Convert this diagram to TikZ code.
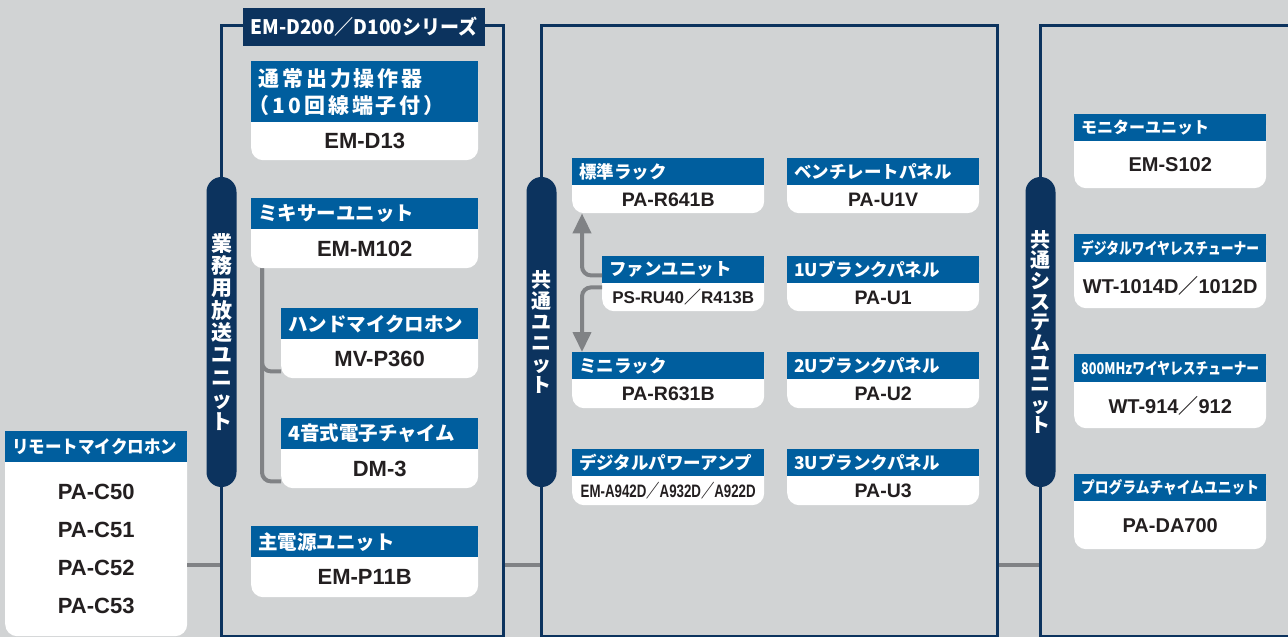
\documentclass[tikz,border=0pt]{standalone}
\usepackage{fontspec}
\setmainfont{Liberation Sans}
\newfontfamily\jp{Noto Sans CJK JP}
\newfontfamily\jpwide{Noto Sans CJK JP}[LetterSpace=14]
\usepackage{graphicx}
\usetikzlibrary{positioning, calc, arrows.meta}

\definecolor{paper}{HTML}{D1D3D4}
\definecolor{navy}{HTML}{0C335E}
\definecolor{headblue}{HTML}{005E9E}
\definecolor{linegray}{HTML}{808285}
\definecolor{ink}{HTML}{231F20}

\newcommand{\fsl}{{\jp ／}}
\newcommand{\squeeze}[2]{\resizebox{#1}{\height}{#2}}
\newcommand{\opswfont}{\jpwide\bfseries\fontsize{21}{27}\selectfont}
% card: name, top left, width, header height, total height, header, body
\newcommand{\unitcard}[7]{%
  \node[cardbody, anchor=north west, minimum width=#3, minimum height=#5] (#1) at (#2) {};
  \node[cardhead, anchor=north west, minimum width=#3, minimum height=#4] (#1h) at (#1.north west) {};
  \node[headtext] (#1t) at ($(#1h.west)+(7,0)$) {#6};
  \node[bodytext] (#1b) at ($(#1h.south)!0.5!(#1.south)$) {#7};
}

\begin{document}
\begin{tikzpicture}[x=1pt, y=-1pt,
  groupframe/.style={draw=navy, line width=3pt, inner sep=0pt},
  pill/.style={fill=navy, rounded corners=14.9pt, minimum width=30pt, minimum height=310pt, inner sep=0pt, text=white, align=center},
  titlebox/.style={fill=navy, minimum width=242pt, minimum height=38pt, inner sep=0pt, text=white},
  cardbody/.style={fill=white, rounded corners=12pt, inner sep=0pt},
  cardhead/.style={fill=headblue, inner sep=0pt},
  headtext/.style={text=white, inner sep=0pt, anchor=west, align=left},
  bodytext/.style={text=ink, inner sep=0pt, align=center},
  link/.style={draw=linegray, line width=4pt, rounded corners=9pt},
  arrowtip/.style={-{Triangle[width=18pt, length=20pt]}}]

\useasboundingbox[fill=paper] (0,0) rectangle (1288,637);

% group frames
\node[groupframe, anchor=north west, minimum width=281.5pt, minimum height=610.5pt] (fr1) at (220,24) {};
\node[groupframe, anchor=north west, minimum width=456pt, minimum height=610.5pt] (fr2) at (540,24) {};
\node[groupframe, anchor=north west, minimum width=260pt, minimum height=610.5pt] (fr3) at (1039,24) {};

\node[titlebox, font=\jp\bfseries\fontsize{20}{22}\selectfont] (series) at (364,27) {\squeeze{227pt}{EM-D200／D100シリーズ}};

% side labels
\node[pill, font=\jp\bfseries\fontsize{21}{22.3}\selectfont] (pbiz) at (221.5,332) {業\\務\\用\\放\\送\\ユ\\ニ\\ッ\\ト};
\node[pill, font=\jp\bfseries\fontsize{20}{21}\selectfont] (pcom) at (541.5,332) {共\\通\\ユ\\ニ\\ッ\\ト};
\node[pill, font=\jp\bfseries\fontsize{20}{20.6}\selectfont] (psys) at (1040.5,332) {共\\通\\シ\\ス\\テ\\ム\\ユ\\ニ\\ッ\\ト};

% remote microphone
\begin{scope}[headtext/.append style={font=\jp\bfseries\fontsize{18}{20}\selectfont},
              bodytext/.append style={font=\bfseries\fontsize{22}{38}\selectfont}]
  \unitcard{remote}{5,431}{182pt}{31pt}{205pt}{\squeeze{165pt}{リモートマイクロホン}}{PA-C50\\PA-C51\\PA-C52\\PA-C53}
\end{scope}

% business units
\begin{scope}[headtext/.append style={font=\jp\bfseries\fontsize{19.5}{27}\selectfont},
              bodytext/.append style={font=\bfseries\fontsize{22}{26}\selectfont}]
  \unitcard{opsw}{251,61}{227pt}{61pt}{99pt}{\opswfont 通常出力操作器\\\opswfont\kern-0.45em（10回線端子付）}{EM-D13}
  \unitcard{mixer}{251,198}{227pt}{31pt}{70pt}{ミキサーユニット}{EM-M102}
  \unitcard{hand}{281,308}{197pt}{31pt}{70pt}{ハンドマイクロホン}{MV-P360}
  \unitcard{chime}{281,418}{197pt}{31pt}{70pt}{4音式電子チャイム}{DM-3}
  \unitcard{power}{251,526}{227pt}{31pt}{71pt}{主電源ユニット}{EM-P11B}
\end{scope}

% common units
\begin{scope}[headtext/.append style={font=\jp\bfseries\fontsize{17.5}{20}\selectfont},
              bodytext/.append style={font=\bfseries\fontsize{19.5}{22}\selectfont}]
  \unitcard{rack}{572,158}{192pt}{27pt}{55pt}{標準ラック}{PA-R641B}
  \unitcard{vent}{787,158}{192pt}{27pt}{55pt}{ベンチレートパネル}{PA-U1V}
  \unitcard{fan}{602,256}{162pt}{27pt}{55pt}{ファンユニット}{\fontsize{17}{20}\selectfont PS-RU40\fsl R413B}
  \unitcard{blank1}{787,256}{192pt}{27pt}{55pt}{1Uブランクパネル}{PA-U1}
  \unitcard{minirack}{572,352}{192pt}{27pt}{56pt}{ミニラック}{PA-R631B}
  \unitcard{blank2}{787,352}{192pt}{27pt}{56pt}{2Uブランクパネル}{PA-U2}
  \unitcard{amp}{572,449}{192pt}{27pt}{56pt}{デジタルパワーアンプ}{\squeeze{175pt}{\fontsize{18}{20}\selectfont EM-A942D\fsl A932D\fsl A922D}}
  \unitcard{blank3}{787,449}{192pt}{27pt}{56pt}{3Uブランクパネル}{PA-U3}
\end{scope}

% common system units
\begin{scope}[headtext/.append style={font=\jp\bfseries\fontsize{16}{20}\selectfont},
              bodytext/.append style={font=\bfseries\fontsize{20}{22}\selectfont}]
  \unitcard{monitor}{1074,114}{192pt}{27pt}{74pt}{モニターユニット}{EM-S102}
  \unitcard{dwt}{1074,234}{192pt}{28pt}{74pt}{\squeeze{178pt}{デジタルワイヤレスチューナー}}{WT-1014D\fsl 1012D}
  \unitcard{uwt}{1074,354}{192pt}{28pt}{74pt}{\squeeze{178pt}{800MHzワイヤレスチューナー}}{WT-914\fsl 912}
  \unitcard{progchime}{1074,474}{192pt}{27pt}{75pt}{\squeeze{178pt}{プログラムチャイムユニット}}{PA-DA700}
\end{scope}

% connectors
\coordinate (trunk) at ($(mixer.south west)+(11,0)$);
\draw[link] (trunk) |- ($(hand.south west)+(0,-7)$);
\draw[link] (trunk) |- ($(chime.south west)+(0,-7)$);

\draw[link, arrowtip] ($(fanh.south west)+(0,-8)$) -| ($(rack.south west)+(10,0)$);
\draw[link, arrowtip] ($(fanh.south west)+(0,4)$) -| ($(minirack.north west)+(10,0)$);

\coordinate (bus) at (0,565);
\draw[link] (remote.east |- bus) -- (fr1.west |- bus);
\draw[link] (fr1.east |- bus) -- (fr2.west |- bus);
\draw[link] (fr2.east |- bus) -- (fr3.west |- bus);
\end{tikzpicture}
\end{document}
